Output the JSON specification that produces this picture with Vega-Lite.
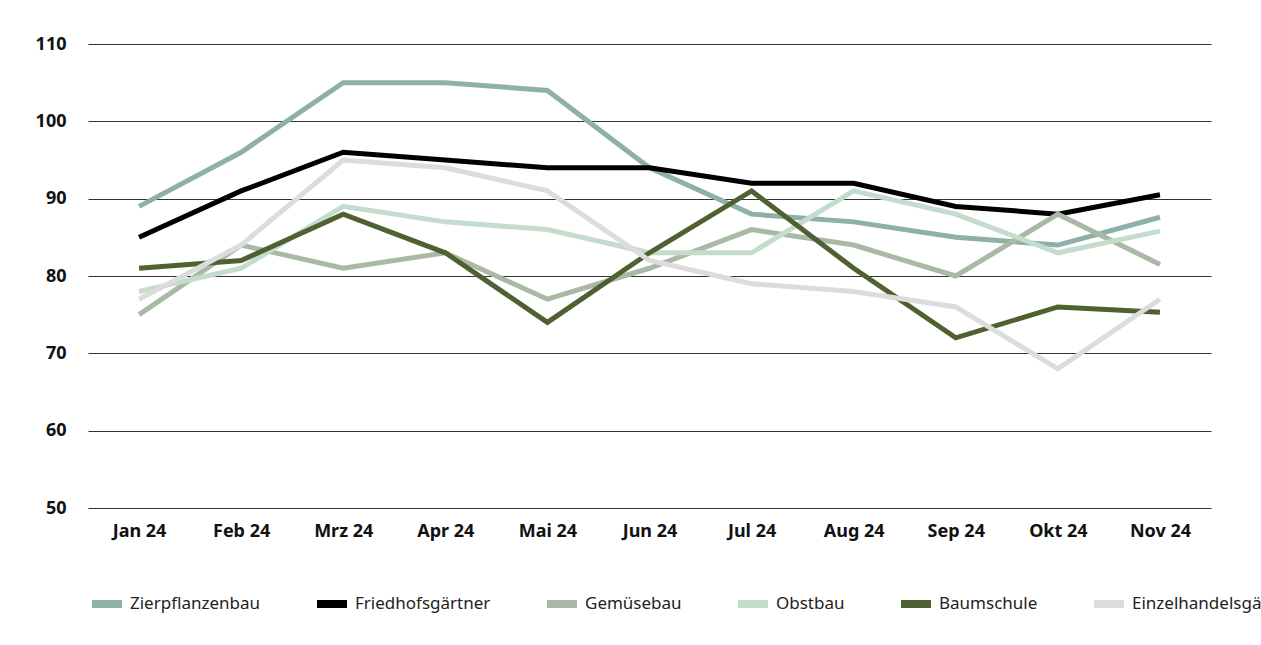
{
  "$schema": "https://vega.github.io/schema/vega-lite/v6.json",
  "width": 1261,
  "height": 645,
  "autosize": {"type": "fit", "contains": "padding"},
  "padding": {"left": 35, "right": 50, "top": 35, "bottom": 25},
  "config": {
    "font": "Noto Sans",
    "view": {"stroke": null},
    "axis": {"labelFont": "Noto Sans", "labelFontWeight": "bold", "labelFontSize": 18, "labelColor": "#111", "domain": false, "ticks": false, "title": null}
  },
  "data": {"values": [
    {"m":"Jan 24","Zierpflanzenbau":89,"Friedhofsgärtner":85,"Gemüsebau":75,"Obstbau":78,"Baumschule":81,"Einzelhandelsgärtner":77},
    {"m":"Feb 24","Zierpflanzenbau":96,"Friedhofsgärtner":91,"Gemüsebau":84,"Obstbau":81,"Baumschule":82,"Einzelhandelsgärtner":84},
    {"m":"Mrz 24","Zierpflanzenbau":105,"Friedhofsgärtner":96,"Gemüsebau":81,"Obstbau":89,"Baumschule":88,"Einzelhandelsgärtner":95},
    {"m":"Apr 24","Zierpflanzenbau":105,"Friedhofsgärtner":95,"Gemüsebau":83,"Obstbau":87,"Baumschule":83,"Einzelhandelsgärtner":94},
    {"m":"Mai 24","Zierpflanzenbau":104,"Friedhofsgärtner":94,"Gemüsebau":77,"Obstbau":86,"Baumschule":74,"Einzelhandelsgärtner":91},
    {"m":"Jun 24","Zierpflanzenbau":94,"Friedhofsgärtner":94,"Gemüsebau":81,"Obstbau":83,"Baumschule":83,"Einzelhandelsgärtner":82},
    {"m":"Jul 24","Zierpflanzenbau":88,"Friedhofsgärtner":92,"Gemüsebau":86,"Obstbau":83,"Baumschule":91,"Einzelhandelsgärtner":79},
    {"m":"Aug 24","Zierpflanzenbau":87,"Friedhofsgärtner":92,"Gemüsebau":84,"Obstbau":91,"Baumschule":81,"Einzelhandelsgärtner":78},
    {"m":"Sep 24","Zierpflanzenbau":85,"Friedhofsgärtner":89,"Gemüsebau":80,"Obstbau":88,"Baumschule":72,"Einzelhandelsgärtner":76},
    {"m":"Okt 24","Zierpflanzenbau":84,"Friedhofsgärtner":88,"Gemüsebau":88,"Obstbau":83,"Baumschule":76,"Einzelhandelsgärtner":68},
    {"m":"Nov 24","Zierpflanzenbau":87.6,"Friedhofsgärtner":90.5,"Gemüsebau":81.5,"Obstbau":85.8,"Baumschule":75.3,"Einzelhandelsgärtner":77}
  ]},
  "transform": [
    {"fold": ["Zierpflanzenbau","Friedhofsgärtner","Gemüsebau","Obstbau","Baumschule","Einzelhandelsgärtner"], "as": ["serie","wert"]}
  ],
  "mark": {"type": "line", "strokeWidth": 5},
  "encoding": {
    "x": {"field": "m", "type": "ordinal", "sort": null, "scale": {"type": "point", "padding": 0.5},
      "axis": {"labelAngle": 0, "labelPadding": 14, "grid": false}},
    "y": {"field": "wert", "type": "quantitative", "scale": {"domain": [50, 110], "nice": false, "zero": false},
      "axis": {"values": [50,60,70,80,90,100,110], "gridColor": "#333", "gridWidth": 1, "labelPadding": 22}},
    "color": {"field": "serie", "type": "nominal",
      "scale": {"domain": ["Zierpflanzenbau","Friedhofsgärtner","Gemüsebau","Obstbau","Baumschule","Einzelhandelsgärtner"],
        "range": ["#8fb0a6","#000000","#a9b9a5","#c4dccb","#4f6130","#dcdcdc"]},
      "legend": {"orient": "bottom", "direction": "horizontal", "columns": 6, "title": null,
        "symbolType": "stroke", "symbolStrokeWidth": 8, "symbolSize": 900, "labelFontSize": 17,
        "labelFont": "Noto Sans", "labelColor": "#222", "columnPadding": 40, "offset": 45}}
  }
}
